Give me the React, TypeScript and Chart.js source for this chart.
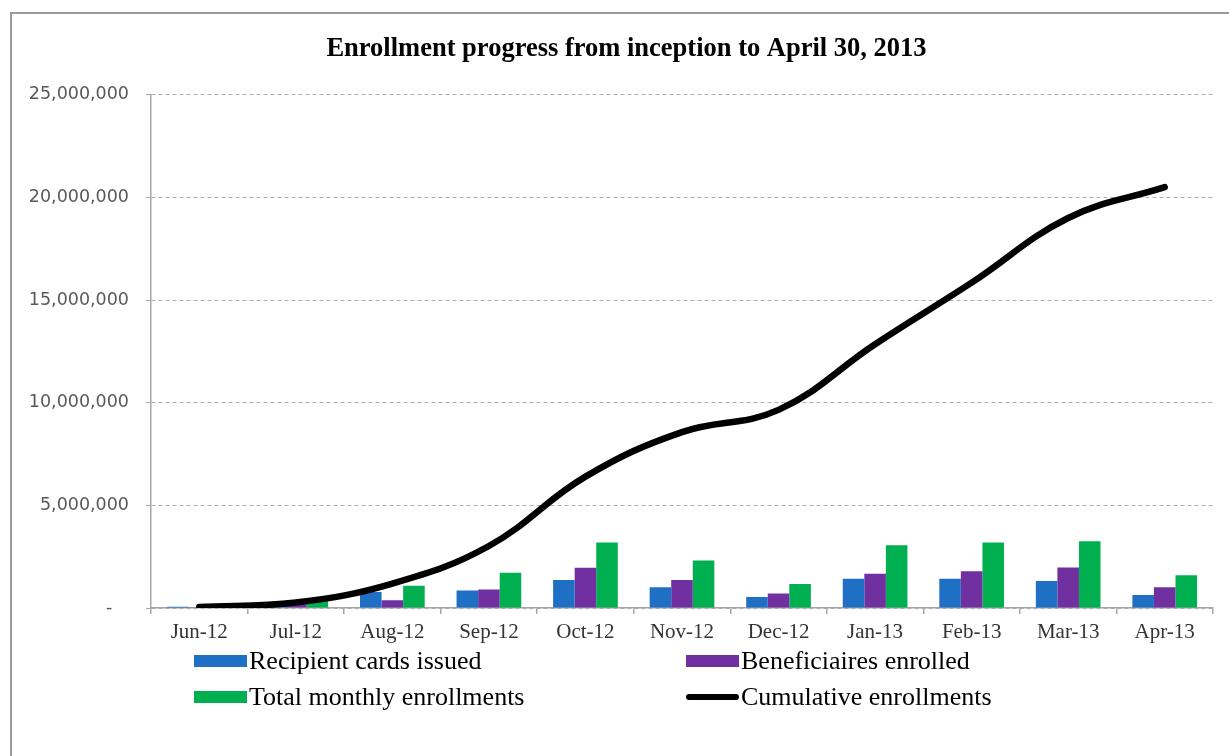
import React, { useEffect, useRef } from 'react';
import { Chart, registerables } from 'chart.js';

Chart.register(...registerables);

const chartTitle = 'Enrollment progress from inception to April 30, 2013';
const months = ['Jun-12', 'Jul-12', 'Aug-12', 'Sep-12', 'Oct-12', 'Nov-12', 'Dec-12', 'Jan-13', 'Feb-13', 'Mar-13', 'Apr-13'];
const recipientCards = [60000, 100000, 780000, 850000, 1360000, 1010000, 530000, 1430000, 1430000, 1310000, 630000];
const beneficiaries = [40000, 200000, 380000, 900000, 1960000, 1360000, 710000, 1670000, 1790000, 1970000, 1010000];
const totalMonthly = [50000, 450000, 1080000, 1720000, 3190000, 2320000, 1170000, 3060000, 3190000, 3250000, 1600000];
const cumulative = [50000, 270000, 1190000, 3020000, 6400000, 8570000, 9650000, 12850000, 15850000, 19000000, 20500000];
const yMax = 25000000;
const yStep = 5000000;

const seriesNames = ['Recipient cards issued', 'Beneficiaires enrolled', 'Total monthly enrollments', 'Cumulative enrollments'];
const seriesColors = ['#1f6fc5', '#7030a0', '#00b050', '#000000'];

const fmt = (v: number) => (v === 0 ? '-   ' : v.toLocaleString('en-US'));

const titleShift = {
  id: 'titleShift',
  afterLayout(c: any) {
    const t = c.titleBlock;
    if (t) t.left += 40;
  },
};

export default function App() {
  const ref = useRef<HTMLCanvasElement | null>(null);

  useEffect(() => {
    if (!ref.current) return;
    const chart = new Chart(ref.current, {
      type: 'bar',
      data: {
        labels: months,
        datasets: [
          { type: 'line', label: seriesNames[3], data: cumulative, borderColor: seriesColors[3], backgroundColor: seriesColors[3], borderWidth: 6.5, pointRadius: 0, tension: 0.4, borderCapStyle: 'round', borderJoinStyle: 'round', order: 0 } as any,
          { label: seriesNames[0], data: recipientCards, backgroundColor: seriesColors[0], order: 1 },
          { label: seriesNames[1], data: beneficiaries, backgroundColor: seriesColors[1], order: 1 },
          { label: seriesNames[2], data: totalMonthly, backgroundColor: seriesColors[2], order: 1 },
        ],
      },
      options: {
        responsive: false,
        animation: false,
        datasets: { bar: { categoryPercentage: 0.67, barPercentage: 1.0 } },
        layout: { padding: { left: 0, right: 16, top: 0, bottom: 0 } },
        plugins: {
          legend: { display: false },
          tooltip: { enabled: false },
          title: {
            display: true,
            text: chartTitle,
            color: '#000',
            font: { family: 'Liberation Serif', size: 26.5, weight: 'bold', lineHeight: 1.2 },
            padding: { top: 33, bottom: 30 },
          },
        },
        scales: {
          x: {
            grid: { offset: true, drawOnChartArea: false, drawTicks: true, tickLength: 6, color: '#a6a6a6', lineWidth: 1.5 },
            border: { display: true, color: '#a6a6a6', width: 1.5 },
            ticks: { color: '#333', padding: 6, font: { family: 'Liberation Serif', size: 21 }, maxRotation: 0, autoSkip: false },
            afterFit: (s: any) => { s.height = 148; },
          },
          y: {
            min: 0,
            max: yMax,
            ticks: { stepSize: yStep, color: '#595959', padding: 17, font: { family: 'DejaVu Sans', size: 17.5 }, callback: (v: any) => fmt(Number(v)) },
            grid: { color: '#b0b0b0', lineWidth: 1, tickLength: 5, tickColor: '#a6a6a6', tickBorderDash: [] },
            border: { display: true, color: '#a6a6a6', width: 1.5, dash: [4, 3] },
            afterFit: (s: any) => { s.width = 151; },
          },
        },
      } as any,
      plugins: [titleShift],
    });
    return () => chart.destroy();
  }, []);

  const legendRows = [
    [0, 1],
    [2, 3],
  ];
  const rowY = [661, 697];
  const colX = [194, 686];

  return (
    <div style={{ position: 'fixed', left: 0, top: 0, width: 1229, height: 756, overflow: 'hidden', background: '#fff' }}>
      <div style={{ position: 'absolute', left: 10, top: 12, width: 1260, height: 800, border: '2.5px solid #9a9a9a', boxSizing: 'border-box' }} />
      <canvas ref={ref} width={1229} height={756} style={{ position: 'absolute', left: 0, top: 0, width: 1229, height: 756 }} />
      {legendRows.map((row, ri) =>
        row.map((si, ci) => (
          <div key={si} style={{ position: 'absolute', left: colX[ci], top: rowY[ri] - 16, height: 32, display: 'flex', alignItems: 'center', whiteSpace: 'nowrap' }}>
            <div style={{ width: 53, height: si === 3 ? 6 : 12, background: seriesColors[si], borderRadius: si === 3 ? 3 : 0, marginRight: 2 }} />
            <span style={{ fontFamily: 'Liberation Serif', fontSize: 26, color: '#000' }}>{seriesNames[si]}</span>
          </div>
        ))
      )}
    </div>
  );
}
